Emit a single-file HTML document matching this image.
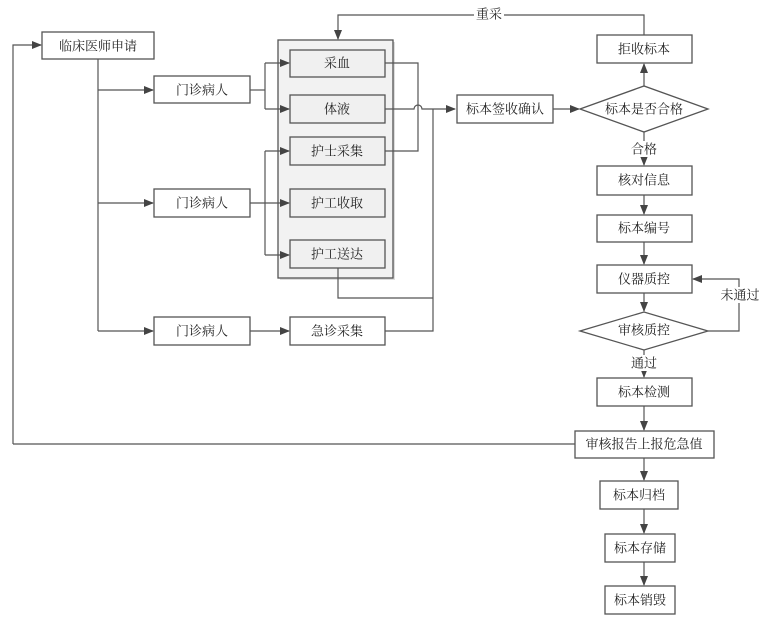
<!DOCTYPE html>
<html><head><meta charset="utf-8"><style>
html,body{margin:0;padding:0;background:#fff;}
svg{display:block;}
text{font-family:"Liberation Serif","Noto Serif CJK SC","Noto Sans CJK SC",serif;font-size:13px;fill:#222;text-anchor:middle;dominant-baseline:central;}
.b{fill:#fff;stroke:#555;stroke-width:1.3;}
.g{fill:#f0f0f0;stroke:#555;stroke-width:1.3;}
.l{fill:none;stroke:#555;stroke-width:1.2;}
</style></head><body>
<svg width="773" height="617" viewBox="0 0 773 617">
<defs><marker id="a" markerWidth="10" markerHeight="8" refX="9" refY="4" orient="auto" markerUnits="userSpaceOnUse"><path d="M0,0L10,4L0,8z" fill="#444"/></marker></defs>
<!-- container -->
<rect x="280" y="42" width="115" height="238" fill="#ddd"/>
<rect x="278" y="40" width="115" height="238" fill="#f2f2f2" stroke="#555" stroke-width="1.3"/>
<!-- left side -->
<rect class="b" x="42" y="32" width="112" height="27"/><text x="98" y="46">临床医师申请</text>
<polyline class="l" points="13,444 13,45 41,45" marker-end="url(#a)"/>
<line class="l" x1="98" y1="59" x2="98" y2="331"/>
<line class="l" x1="98" y1="90" x2="153" y2="90" marker-end="url(#a)"/>
<line class="l" x1="98" y1="203" x2="153" y2="203" marker-end="url(#a)"/>
<line class="l" x1="98" y1="331" x2="153" y2="331" marker-end="url(#a)"/>
<rect class="b" x="154" y="76" width="96" height="27"/><text x="202" y="90">门诊病人</text>
<rect class="b" x="154" y="189" width="96" height="28"/><text x="202" y="203">门诊病人</text>
<rect class="b" x="154" y="317" width="96" height="28"/><text x="202" y="331">门诊病人</text>
<polyline class="l" points="250,90 265,90"/>
<polyline class="l" points="265,63 265,109"/>
<line class="l" x1="265" y1="63" x2="289" y2="63" marker-end="url(#a)"/>
<line class="l" x1="265" y1="109" x2="289" y2="109" marker-end="url(#a)"/>
<line class="l" x1="250" y1="203" x2="289" y2="203" marker-end="url(#a)"/>
<polyline class="l" points="265,151 265,255"/>
<line class="l" x1="265" y1="151" x2="289" y2="151" marker-end="url(#a)"/>
<line class="l" x1="265" y1="255" x2="289" y2="255" marker-end="url(#a)"/>
<line class="l" x1="250" y1="331" x2="289" y2="331" marker-end="url(#a)"/>
<rect class="g" x="290" y="50" width="95" height="27"/><text x="337" y="63">采血</text>
<rect class="g" x="290" y="95" width="95" height="28"/><text x="337" y="109">体液</text>
<rect class="g" x="290" y="137" width="95" height="28"/><text x="337" y="151">护士采集</text>
<rect class="g" x="290" y="189" width="95" height="28"/><text x="337" y="203">护工收取</text>
<rect class="g" x="290" y="240" width="95" height="28"/><text x="337" y="254">护工送达</text>
<rect class="b" x="290" y="317" width="95" height="28"/><text x="337" y="331">急诊采集</text>
<polyline class="l" points="385,63 418,63 418,151 385,151"/>
<path class="l" d="M385,109 H414 A4,4 0 0 1 422,109 H455" marker-end="url(#a)"/>
<polyline class="l" points="433,109 433,331 385,331"/>
<polyline class="l" points="338,268 338,298 433,298"/>
<!-- right side -->
<rect class="b" x="457" y="95" width="96" height="28"/><text x="505" y="109">标本签收确认</text>
<line class="l" x1="553" y1="109" x2="579" y2="109" marker-end="url(#a)"/>
<polygon class="b" points="580,109 644,86 708,109 644,132"/><text x="644" y="109">标本是否合格</text>
<line class="l" x1="644" y1="86" x2="644" y2="64" marker-end="url(#a)"/>
<rect class="b" x="597" y="35" width="95" height="28"/><text x="644" y="49">拒收标本</text>
<polyline class="l" points="644,35 644,15 338,15 338,39" marker-end="url(#a)"/>
<rect x="474" y="7" width="30" height="16" fill="#fff"/><text x="489" y="14">重采</text>
<line class="l" x1="644" y1="132" x2="644" y2="165" marker-end="url(#a)"/>
<rect x="628" y="141" width="32" height="16" fill="#fff"/><text x="644" y="149">合格</text>
<rect class="b" x="597" y="166" width="95" height="29"/><text x="644" y="180">核对信息</text>
<line class="l" x1="644" y1="195" x2="644" y2="214" marker-end="url(#a)"/>
<rect class="b" x="597" y="215" width="95" height="27"/><text x="644" y="228">标本编号</text>
<line class="l" x1="644" y1="242" x2="644" y2="264" marker-end="url(#a)"/>
<rect class="b" x="597" y="265" width="95" height="28"/><text x="644" y="279">仪器质控</text>
<line class="l" x1="644" y1="293" x2="644" y2="311" marker-end="url(#a)"/>
<polygon class="b" points="580,331 644,312 708,331 644,350"/><text x="644" y="330">审核质控</text>
<polyline class="l" points="708,331 739,331 739,279 693,279" marker-end="url(#a)"/>
<rect x="720" y="287" width="40" height="16" fill="#fff"/><text x="740" y="295">未通过</text>
<line class="l" x1="644" y1="350" x2="644" y2="377" marker-end="url(#a)"/>
<rect x="628" y="355" width="32" height="16" fill="#fff"/><text x="644" y="363">通过</text>
<rect class="b" x="597" y="378" width="95" height="28"/><text x="644" y="392">标本检测</text>
<line class="l" x1="644" y1="406" x2="644" y2="430" marker-end="url(#a)"/>
<rect class="b" x="575" y="431" width="139" height="27"/><text x="644" y="444">审核报告上报危急值</text>
<line class="l" x1="575" y1="444" x2="13" y2="444"/>
<line class="l" x1="644" y1="458" x2="644" y2="480" marker-end="url(#a)"/>
<rect class="b" x="600" y="481" width="78" height="28"/><text x="639" y="495">标本归档</text>
<line class="l" x1="644" y1="509" x2="644" y2="533" marker-end="url(#a)"/>
<rect class="b" x="605" y="534" width="70" height="28"/><text x="640" y="548">标本存储</text>
<line class="l" x1="644" y1="562" x2="644" y2="585" marker-end="url(#a)"/>
<rect class="b" x="605" y="586" width="70" height="28"/><text x="640" y="600">标本销毁</text>
</svg>
</body></html>
